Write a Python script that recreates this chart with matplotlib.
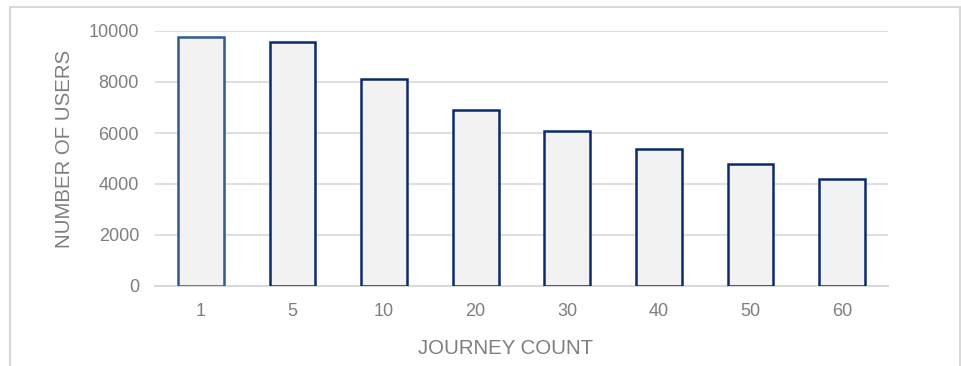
import matplotlib
matplotlib.use("Agg")
import matplotlib.pyplot as plt
from matplotlib.patches import Rectangle

categories = ["1", "5", "10", "20", "30", "40", "50", "60"]
users = [9750, 9550, 8100, 6900, 6080, 5380, 4800, 4200]
yticks = [0, 2000, 4000, 6000, 8000, 10000]

plt.rcParams['font.family'] = ['Liberation Sans', 'DejaVu Sans']

fig = plt.figure(figsize=(9.61, 3.66), dpi=100)
ax = fig.add_axes([155/961, 1-286/366, 733/961, (286-31)/366])

edges = ['#2e5b8c'] + ['#0c2a6a'] * (len(categories) - 1)
x = list(range(len(categories)))
ax.bar(x, users, width=0.5, color='#f2f2f2', edgecolor=edges, linewidth=1.8, zorder=3)

ax.set_xlim(-0.5, len(categories) - 0.5)
ax.set_ylim(0, 10000)
ax.set_yticks(yticks)
ax.set_xticks(x)
ax.set_xticklabels(categories)
ax.yaxis.grid(True, color='#d9d9d9', linewidth=1.2, zorder=0)
ax.set_axisbelow(True)
for s in ['top', 'right', 'left']:
    ax.spines[s].set_visible(False)
ax.spines['bottom'].set_color('#d9d9d9')
ax.spines['bottom'].set_linewidth(1.5)
ax.tick_params(length=0, labelsize=13, colors='#7f7f7f', pad=12)
ax.tick_params(axis='y', pad=11.5)

fig.text(505.5/961, 1-348/366, 'JOURNEY COUNT', fontsize=14.7, color='#7f7f7f',
         ha='center', va='center')
fig.text(64.5/961, 1-148.5/366, 'NUMBER OF USERS', fontsize=14.7, color='#7f7f7f',
         ha='center', va='center', rotation=90)

fig.patches.append(Rectangle((9.5/961, -0.1), (959.5-9.5)/961, 1.1 - 6.5/366,
                             transform=fig.transFigure, fill=False,
                             edgecolor='#d9d9d9', linewidth=1.5))

fig.savefig('out.png', dpi=100)
